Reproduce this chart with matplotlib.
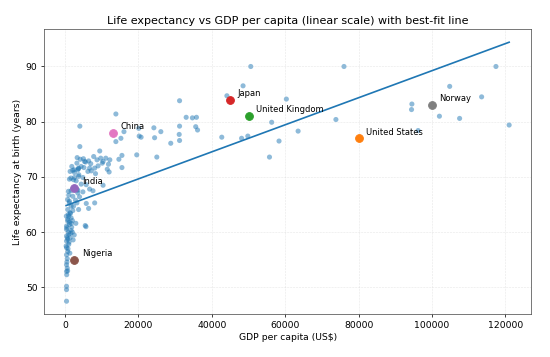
import numpy as np
import matplotlib
matplotlib.use("Agg")
import matplotlib.pyplot as plt

# GDP per capita (US$) and life expectancy (years) for the background countries
gdp = [
    400, 400, 400, 450, 400, 600, 700, 400, 500, 600, 400, 1300, 730, 800, 400, 300,
    1010, 400, 1100, 2200, 730, 1380, 600, 400, 2500, 1010, 1500, 900, 1650, 400, 500,
    1800, 400, 1190, 1200, 730, 2000, 700, 1650, 350, 900, 1380, 1450, 2110, 730, 1650,
    2300, 1190, 1150, 690, 2840, 2110, 1010, 920, 1650, 1190, 1610, 2300, 2570, 2110,
    1380, 1840, 2530, 2570, 2940, 1000, 1700, 2000, 5700,
    3030, 3230, 3300, 3460, 3480, 3230, 3460, 3230, 3670, 3690, 3690, 3690, 3760, 3940,
    4030, 4030, 4130, 4380, 4400, 4860, 4860, 5140, 5300, 5500, 5590, 5760, 5780, 6220,
    6420, 6420, 6690, 6690, 7150, 7610, 7800, 8070, 8070, 8710, 9450, 9720, 10140,
    10360, 10360, 11100, 11830, 12010, 12200, 13850, 13850, 14670, 15220, 15500, 15500,
    16050, 19530, 20080, 20720, 7000, 9000, 5000, 11500, 8300,
    50600, 76000, 117400, 48500, 104800, 44100, 113500, 60300, 31200, 94500, 94400,
    33000, 34700, 35800, 102000, 107500, 73800, 56300, 121000, 24200, 31200, 35600,
    36100, 26100, 63500, 96200, 24400, 20200, 31100, 42700, 48100, 49800, 31200, 28800,
    58300, 55700, 25000,
]
life_exp = [
    47.5, 49.6, 50.2, 52.3, 52.9, 53.5, 53.0, 54.1, 54.6, 55.2, 55.9, 56.2, 56.5, 57.0,
    57.2, 57.5, 57.8, 58.4, 58.2, 58.6, 58.7, 59.0, 59.0, 59.3, 59.5, 59.6, 59.8, 60.0,
    60.3, 60.5, 60.8, 60.9, 61.1, 61.4, 61.8, 62.0, 62.1, 62.3, 62.6, 62.9, 63.2, 63.5,
    63.4, 63.9, 64.1, 64.7, 64.7, 65.6, 65.3, 65.9, 65.8, 66.5, 66.7, 67.4, 67.5, 69.6,
    69.8, 69.5, 69.9, 71.2, 71.0, 71.9, 71.3, 70.8, 61.6, 62.8, 61.6, 60.0, 61.0,
    69.3, 72.5, 73.5, 71.3, 67.6, 67.7, 67.1, 65.3, 71.5, 71.6, 70.1, 64.1, 70.4, 66.4,
    79.2, 75.5, 73.2, 71.9, 68.7, 69.9, 67.3, 71.7, 72.8, 61.2, 72.7, 68.6, 65.2, 71.0,
    72.9, 64.3, 71.6, 67.8, 71.1, 67.5, 73.7, 71.6, 65.3, 73.1, 74.7, 73.4, 72.5,
    72.8, 68.5, 73.4, 72.3, 70.9, 73.1, 81.4, 76.4, 73.2, 77.0, 73.9, 71.7,
    78.2, 74.0, 78.8, 77.2, 72.4, 72.0, 73.3, 71.4, 70.6,
    90.0, 90.0, 90.0, 86.5, 86.4, 84.7, 84.5, 84.1, 83.8, 83.2, 82.2,
    80.8, 80.7, 80.8, 81.0, 80.6, 80.4, 79.9, 79.4, 78.9, 79.2, 79.1,
    78.5, 78.2, 78.3, 78.4, 77.1, 77.4, 77.7, 77.2, 77.0, 77.4, 76.6, 76.1,
    76.5, 73.6, 73.6,
]

# highlighted countries
hl_names = ["United States", "United Kingdom", "Japan", "India", "Nigeria", "China", "Norway"]
hl_gdp = [80000, 50000, 45000, 2500, 2500, 13000, 100000]
hl_life = [77, 81, 84, 68, 55, 78, 83]

# best-fit line (years per US$, years at 0)
fit_slope = 2.45e-4
fit_intercept = 64.75

DPI = 67


def main():
    fig, ax = plt.subplots(figsize=(550 / DPI, 357 / DPI), dpi=DPI)
    fig.subplots_adjust(left=0.08, right=0.966, top=0.918, bottom=0.12)

    ax.scatter(gdp, life_exp, s=30, color="tab:blue", alpha=0.5, edgecolors="none")

    xs = np.linspace(min(gdp), max(gdp), 100)
    ax.plot(xs, fit_slope * xs + fit_intercept, color="tab:blue", lw=1.8)

    colors = plt.rcParams["axes.prop_cycle"].by_key()["color"][1:]
    for name, x, y, c in zip(hl_names, hl_gdp, hl_life, colors):
        ax.scatter([x], [y], s=70, color=c, zorder=3)
        ax.annotate(name, (x, y), xytext=(8, 4), textcoords="offset points", fontsize=9)

    ax.set_title("Life expectancy vs GDP per capita (linear scale) with best-fit line", fontsize=12)
    ax.set_xlabel("GDP per capita (US$)", fontsize=10)
    ax.set_ylabel("Life expectancy at birth (years)", fontsize=10)
    ax.grid(True, ls="--", lw=0.6, alpha=0.3)
    for sp in ax.spines.values():
        sp.set_color("0.3")

    fig.savefig("out.png", dpi=DPI)
    plt.close(fig)


if __name__ == "__main__":
    main()
